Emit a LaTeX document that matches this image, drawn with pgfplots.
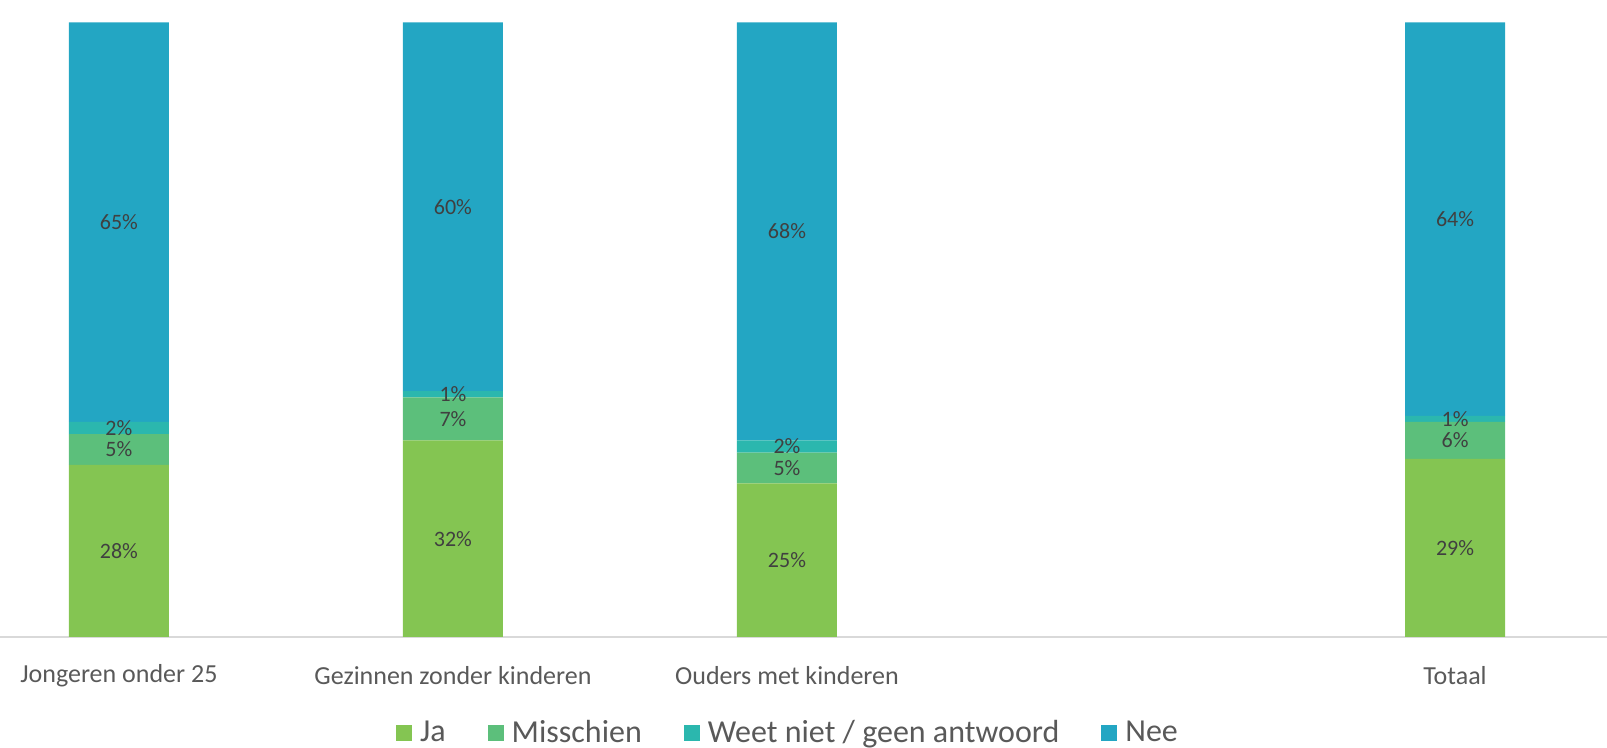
\documentclass[border=0pt]{standalone}
\usepackage{fontspec}
\setmainfont{Carlito}
\usepackage{pgfplots}
\usepackage{pgfplotstable}
\pgfplotsset{compat=1.18}

\definecolor{cJa}{HTML}{84C552}
\definecolor{cMis}{HTML}{5CBF7B}
\definecolor{cWn}{HTML}{2BB7AE}
\definecolor{cNee}{HTML}{23A6C3}
\definecolor{txt}{HTML}{595959}
\definecolor{lbl}{HTML}{404040}

% aandeel per groep (procent), groep 3 is leeg
\pgfplotstableread{
x ja mis wn nee
0 28 5 2 65
1 32 7 1 60
2 25 5 2 68
4 29 6 1 64
}\antwoorden

\begin{document}
\begin{tikzpicture}
\begin{axis}[
    name=ax,
    at={(0,0)}, anchor=south west,
    scale only axis,
    width=803.5pt, height=318.5pt,
    ybar stacked,
    bar width=50pt,
    xmin=-0.356, xmax=4.455,
    ymin=0, ymax=103.66,
    hide y axis,
    axis x line*=bottom,
    x axis line style={draw=black!15, line width=0.8pt},
    xtick={0,1,2,3,4},
    xticklabels={Jongeren onder 25, Gezinnen zonder kinderen, Ouders met kinderen, {}, Totaal},
    major tick length=0pt,
    xticklabel style={anchor=center, yshift=-19.5pt, font=\fontsize{13}{15}\selectfont, text=txt},
    /pgf/number format/assume math mode=true,
    point meta=explicit,
    nodes near coords={\pgfmathprintnumber{\pgfplotspointmeta}\%},
    every node near coord/.append style={anchor=center, inner sep=0.5pt,
        font=\fontsize{11}{12}\selectfont, text=lbl},
    legend style={at={(0.491,-0.151)}, anchor=center, draw=none, fill=none,
        font=\fontsize{16}{19}\selectfont, text=txt,
        legend columns=4,
        /tikz/every even column/.append style={column sep=19pt}},
    legend image code/.code={\fill[#1] (0pt,-4pt) rectangle (8pt,4pt); \path (10pt,0pt);},
]
\addplot[fill=cJa, draw=none] table[x=x, y=ja, meta=ja] {\antwoorden};
\addlegendentry{Ja}
\addplot[fill=cMis, draw=none] table[x=x, y=mis, meta=mis] {\antwoorden};
\addlegendentry{Misschien}
\addplot[fill=cWn, draw=none] table[x=x, y=wn, meta=wn] {\antwoorden};
\addlegendentry{Weet niet / geen antwoord}
\addplot[fill=cNee, draw=none] table[x=x, y=nee, meta=nee] {\antwoorden};
\addlegendentry{Nee}
\end{axis}
\pgfresetboundingbox
\path (0,-55.5pt) rectangle (803.5pt,318.5pt);
\end{tikzpicture}
\end{document}
